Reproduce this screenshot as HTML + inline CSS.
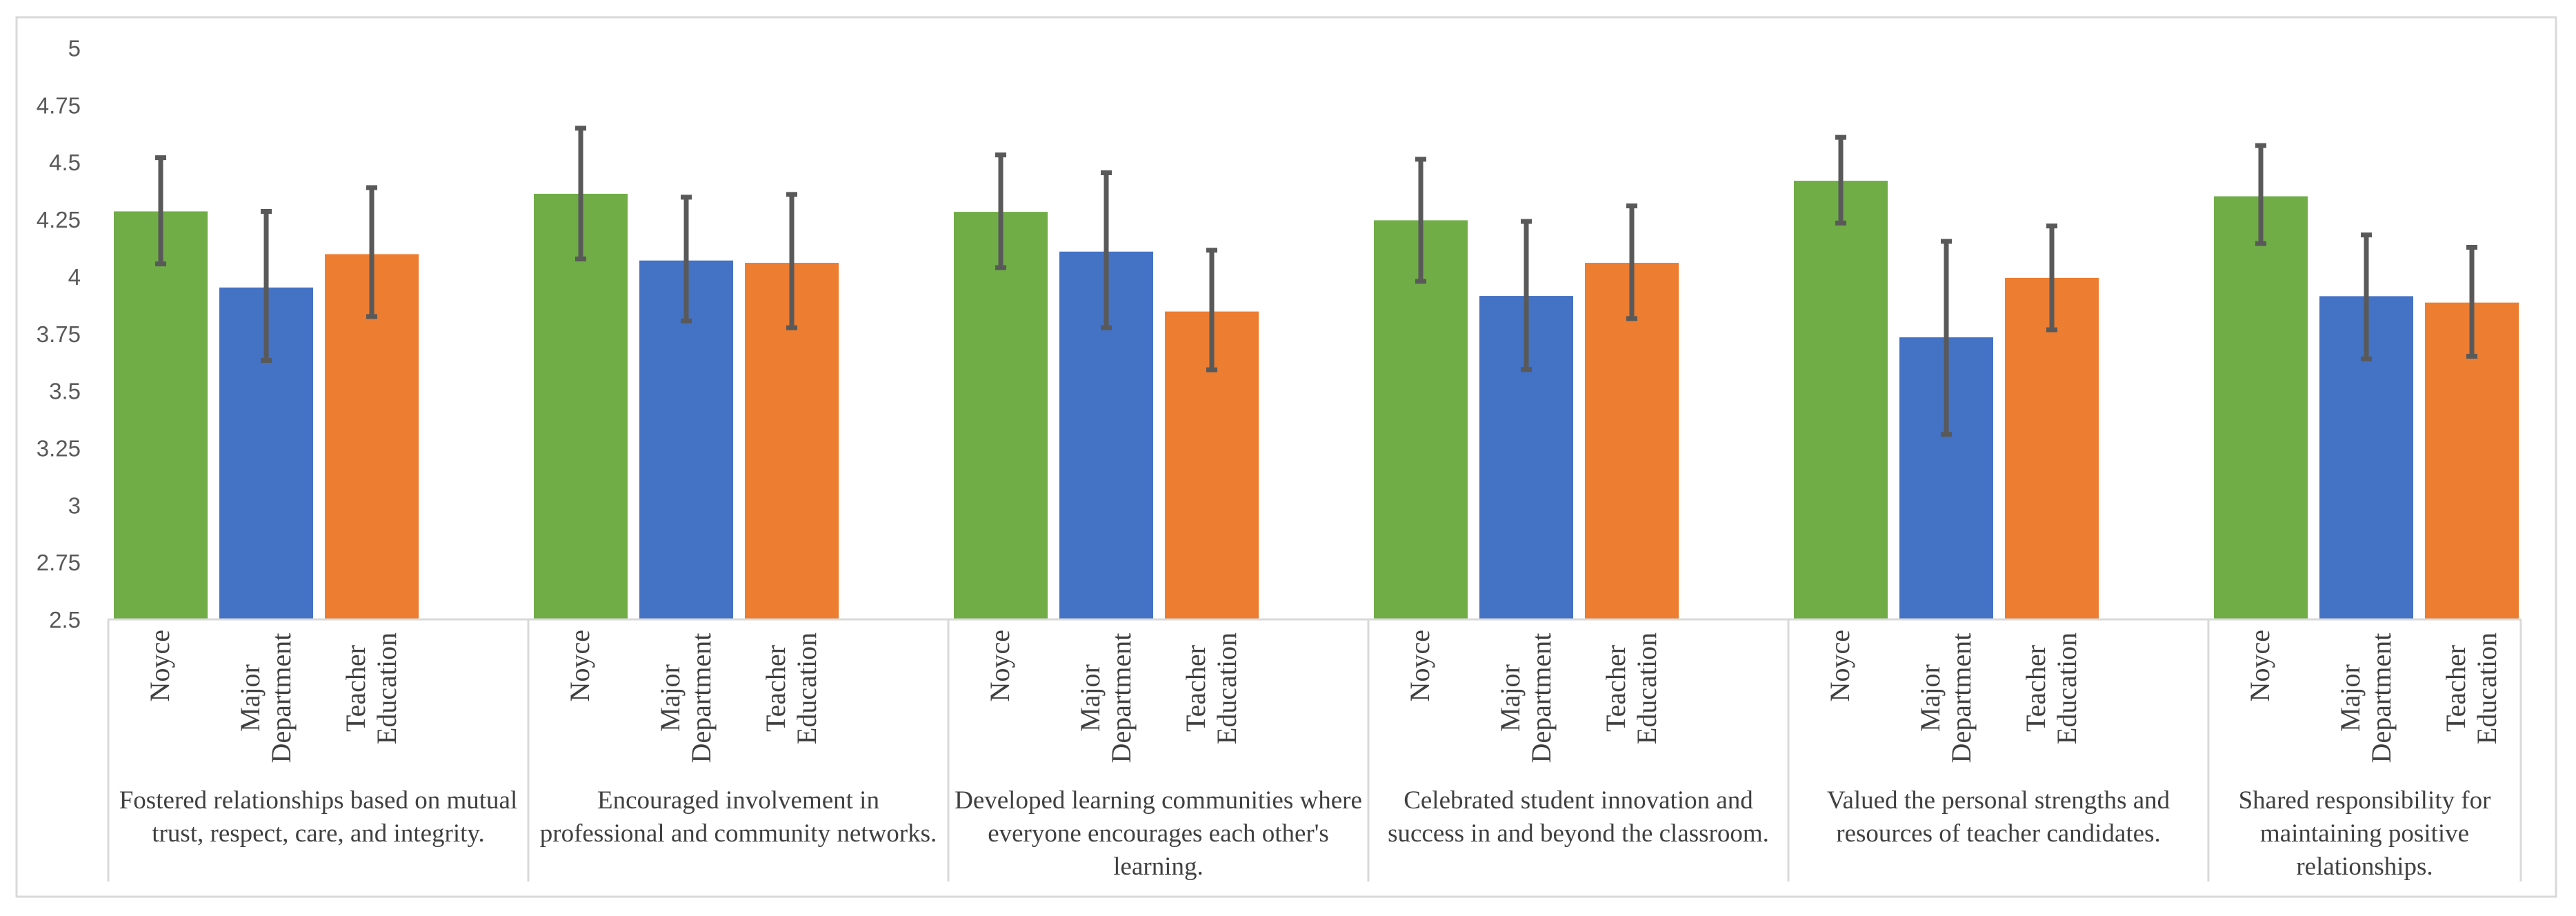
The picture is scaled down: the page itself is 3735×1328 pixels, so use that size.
<!DOCTYPE html>
<html><head><meta charset="utf-8">
<style>
html,body{margin:0;padding:0;background:#fff;}
svg{display:block;}
</style></head>
<body>
<svg id="chart" width="3735" height="1328" viewBox="0 0 3735 1328" xmlns="http://www.w3.org/2000/svg">
<rect x="24" y="25" width="3682" height="1275" fill="#fff" stroke="#d9d9d9" stroke-width="3"/>
<g id="plot"></g>
</svg>
<script>
const categories = [
 ["Fostered relationships based on mutual","trust, respect, care, and integrity."],
 ["Encouraged involvement in","professional and community networks."],
 ["Developed learning communities where","everyone encourages each other's","learning."],
 ["Celebrated student innovation and","success in and beyond the classroom."],
 ["Valued the personal strengths and","resources of teacher candidates."],
 ["Shared responsibility for","maintaining positive","relationships."]
];
const seriesNames = [["Noyce"],["Major","Department"],["Teacher","Education"]];
const seriesColors = ["#70ad47","#4472c4","#ed7d31"];
const noyce = [4.285,4.362,4.283,4.246,4.419,4.351];
const major = [3.952,4.07,4.109,3.915,3.734,3.914];
const teacher = [4.098,4.06,3.847,4.06,3.994,3.886];
const noyceHi = [4.52,4.649,4.532,4.513,4.609,4.573];
const noyceLo = [4.055,4.077,4.039,3.979,4.234,4.144];
const majorHi = [4.285,4.347,4.454,4.241,4.154,4.182];
const majorLo = [3.633,3.806,3.776,3.593,3.31,3.64];
const teacherHi = [4.389,4.359,4.115,4.309,4.221,4.128];
const teacherLo = [3.825,3.776,3.592,3.816,3.767,3.651];
const yTicks = [2.5,2.75,3,3.25,3.5,3.75,4,4.25,4.5,4.75,5];
const yTickLabels = ["2.5","2.75","3","3.25","3.5","3.75","4","4.25","4.5","4.75","5"];

const NS="http://www.w3.org/2000/svg";
const g=document.getElementById('plot');
const Y0=898, Y1=69.5, VMIN=2.5, VMAX=5;
function y(v){return Y0-(v-VMIN)/(VMAX-VMIN)*(Y0-Y1);}
const X0=157, BAND=609, XEND=3655;
function groupX(i){return X0+i*BAND;}
function barX(i,s){return groupX(i)+8+s*153;}
const BW=136;
function mk(tag,attrs){const e=document.createElementNS(NS,tag);for(const k in attrs)e.setAttribute(k,attrs[k]);g.appendChild(e);return e;}

yTicks.forEach((t,k)=>{
 const e=mk('text',{x:117,y:y(t)+12,'text-anchor':'end','font-family':'Liberation Sans, sans-serif','font-size':33,fill:'#595959'});
 
 
 e.textContent=yTickLabels[k];
});

const vals=[noyce,major,teacher], his=[noyceHi,majorHi,teacherHi], los=[noyceLo,majorLo,teacherLo];
categories.forEach((cat,i)=>{
 for(let s=0;s<3;s++){
  const v=vals[s][i];
  const b=mk('rect',{x:barX(i,s),y:y(v),width:BW,height:Y0-y(v),fill:seriesColors[s]});
  
  
  const cx=barX(i,s)+BW/2;
  const eb=mk('path',{d:`M${cx},${y(his[s][i])}V${y(los[s][i])}M${cx-8},${y(his[s][i])}H${cx+8}M${cx-8},${y(los[s][i])}H${cx+8}`,stroke:'#595959','stroke-width':7,fill:'none'});
  
  
  const lines=seriesNames[s];
  if(lines.length===1){
   const t=mk('text',{transform:`translate(${cx+12},913) rotate(-90)`,'text-anchor':'end','font-family':'Liberation Serif, serif','font-size':40,fill:'#404040'});
   
   
   t.textContent=lines[0];
  } else {
   const cy = s===1?1012:998;
   lines.forEach((ln,k)=>{
    const lx=cx+(k===0?-22:23)+12;
    const t=mk('text',{transform:`translate(${lx},${cy}) rotate(-90)`,'text-anchor':'middle','font-family':'Liberation Serif, serif','font-size':40,fill:'#404040'});
    
    
    t.textContent=ln;
   });
  }
 }
 const gl=groupX(i), gr=Math.min(groupX(i+1),XEND);
 const gc=(gl+gr)/2;
 cat.forEach((ln,k)=>{
  const t=mk('text',{x:gc,y:1172+k*48,'text-anchor':'middle','font-family':'Liberation Serif, serif','font-size':37,fill:'#404040'});
  
  
  t.textContent=ln;
 });
});
const ax=mk('line',{x1:X0,y1:Y0,x2:XEND,y2:Y0,stroke:'#d9d9d9','stroke-width':3});


for(let i=0;i<=categories.length;i++){
 const xx=Math.min(groupX(i),XEND);
 const d=mk('line',{x1:xx,y1:Y0,x2:xx,y2:1278,stroke:'#d9d9d9','stroke-width':3});
 
 
}
</script>
</body></html>
